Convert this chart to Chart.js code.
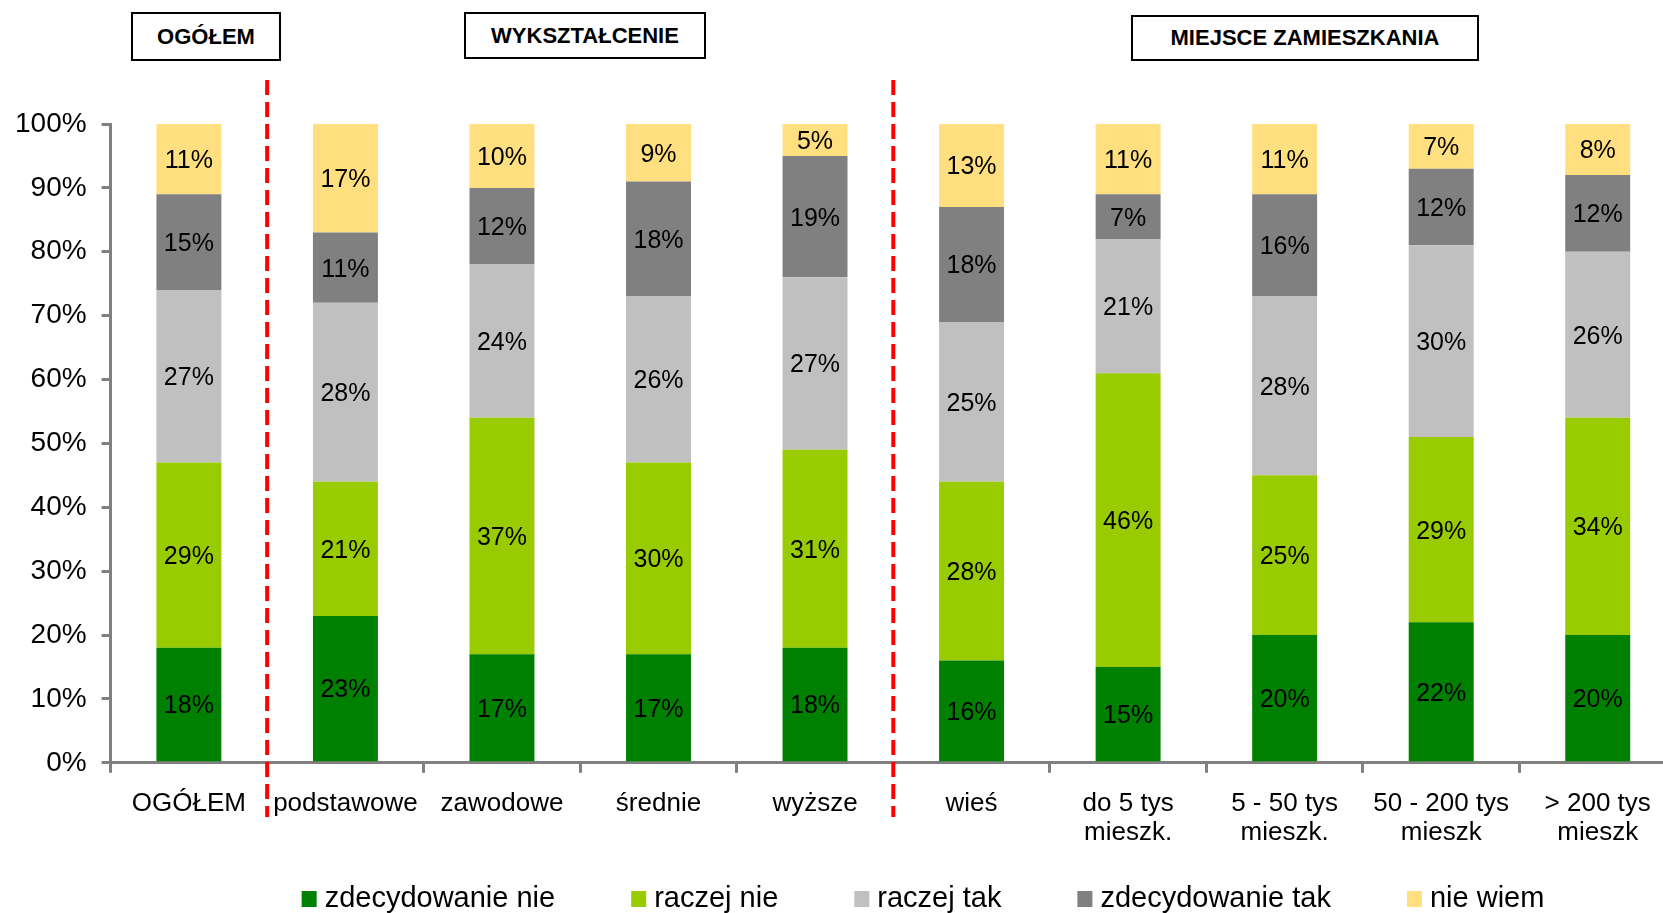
<!DOCTYPE html>
<html>
<head>
<meta charset="utf-8">
<script src="https://cdn.jsdelivr.net/npm/chart.js@4/dist/chart.umd.min.js"></script>
<style>
    body { margin: 0; overflow: hidden; background: #fff; }
    #wrap { position: relative; width: 1680px; height: 913px; }
    .naglowek {
        position: absolute; box-sizing: border-box; border: 2px solid #000; background: #fff;
        font: bold 22px "Liberation Sans", Arial, sans-serif; color: #000;
        display: flex; align-items: center; justify-content: center;
    }
</style>
</head>
<body>
<div id="wrap">
    <canvas id="wykres"></canvas>
    <div class="naglowek" style="left:131px;top:12px;width:150px;height:49px;">OGÓŁEM</div>
    <div class="naglowek" style="left:464px;top:12px;width:242px;height:47px;">WYKSZTAŁCENIE</div>
    <div class="naglowek" style="left:1131px;top:15px;width:348px;height:46px;">MIEJSCE ZAMIESZKANIA</div>
</div>
<script>
// kategorie
const kategorie = ['OGÓŁEM', 'podstawowe', 'zawodowe', 'średnie', 'wyższe', 'wieś',
    ['do 5 tys', 'mieszk.'], ['5 - 50 tys', 'mieszk.'], ['50 - 200 tys', 'mieszk'], ['> 200 tys', 'mieszk']];

// wartości w %
const zdecydowanieNie = [18, 23, 17, 17, 18, 16, 15, 20, 22, 20];
const raczejNie       = [29, 21, 37, 30, 31, 28, 46, 25, 29, 34];
const raczejTak       = [27, 28, 24, 26, 27, 25, 21, 28, 30, 26];
const zdecydowanieTak = [15, 11, 12, 18, 19, 18,  7, 16, 12, 12];
const nieWiem         = [11, 17, 10,  9,  5, 13, 11, 11,  7,  8];

const podzialy = [1, 5]; // czerwone linie przed tymi kategoriami
const FONT = '"Liberation Sans", Arial, sans-serif';

const etykietyPlugin = {
    id: 'etykiety',
    afterDatasetsDraw(chart) {
        const ctx = chart.ctx;
        ctx.save();
        ctx.font = '25px ' + FONT;
        ctx.fillStyle = '#000';
        ctx.textAlign = 'center';
        ctx.textBaseline = 'middle';
        chart.data.datasets.forEach((ds, i) => {
            chart.getDatasetMeta(i).data.forEach((el, j) => {
                ctx.fillText(ds.data[j] + '%', el.x, (el.y + el.base) / 2 + 2);
            });
        });
        ctx.restore();
    },
    afterDraw(chart) {
        const ctx = chart.ctx;
        const x = chart.scales.x;
        // linie podziału grup
        ctx.save();
        ctx.strokeStyle = '#ff0000';
        ctx.lineWidth = 4;
        ctx.setLineDash([15, 7]);
        podzialy.forEach(k => {
            const px = (x.getPixelForValue(k - 1) + x.getPixelForValue(k)) / 2;
            ctx.beginPath();
            ctx.moveTo(px, 80);
            ctx.lineTo(px, 817);
            ctx.stroke();
        });
        ctx.restore();

        // legenda
        ctx.save();
        ctx.font = '29px ' + FONT;
        ctx.textBaseline = 'middle';
        const ds = chart.data.datasets;
        const szer = ds.map(d => 15 + 8 + ctx.measureText(d.label).width);
        const odstep = 76;
        const razem = szer.reduce((a, b) => a + b, 0) + odstep * (ds.length - 1);
        let lx = 923 - razem / 2;
        const ly = 899;
        ds.forEach((d, i) => {
            ctx.fillStyle = d.backgroundColor;
            ctx.fillRect(lx, ly - 8, 15, 16);
            ctx.fillStyle = '#000';
            ctx.fillText(d.label, lx + 23, ly);
            lx += szer[i] + odstep;
        });
        ctx.restore();
    }
};

new Chart(document.getElementById('wykres'), {
    type: 'bar',
    data: {
        labels: kategorie,
        datasets: [
            { label: 'zdecydowanie nie', data: zdecydowanieNie, backgroundColor: '#008000' },
            { label: 'raczej nie', data: raczejNie, backgroundColor: '#99cc00' },
            { label: 'raczej tak', data: raczejTak, backgroundColor: '#c0c0c0' },
            { label: 'zdecydowanie tak', data: zdecydowanieTak, backgroundColor: '#808080' },
            { label: 'nie wiem', data: nieWiem, backgroundColor: '#ffdf80' }
        ]
    },
    options: {
        responsive: true,
        maintainAspectRatio: false,
        animation: false,
        datasets: { bar: { barPercentage: 0.415, categoryPercentage: 1 } },
        layout: { padding: { left: 0, right: 4, top: 124, bottom: 49 } },
        plugins: {
            legend: { display: false },
            tooltip: { enabled: false }
        },
        scales: {
            x: {
                stacked: true,
                border: { color: '#808080', width: 3 },
                grid: { drawOnChartArea: false, color: '#808080', lineWidth: 3, tickLength: 10, offset: true },
                ticks: { color: '#000', font: { family: FONT, size: 26, lineHeight: 1.1 }, padding: 17, maxRotation: 0, autoSkip: false }
            },
            y: {
                stacked: true,
                min: 0,
                max: 100,
                border: { color: '#808080', width: 3 },
                grid: { drawOnChartArea: false, color: '#808080', lineWidth: 3, tickLength: 9 },
                ticks: {
                    stepSize: 10,
                    color: '#000',
                    padding: 15,
                    font: { family: FONT, size: 28 },
                    callback: function(value) {
                        return value + '%';
                    }
                }
            }
        }
    },
    plugins: [etykietyPlugin]
});
</script>
</body>
</html>
